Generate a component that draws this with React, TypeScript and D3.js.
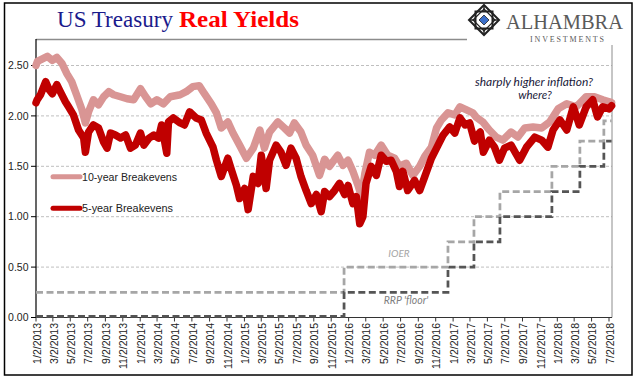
import React from 'react';
import * as d3 from 'd3';

// ---------- DATA ----------
const tenYear: [string, number][] = [
  ['2013-01-02', 2.5], ['2013-01-07', 2.54], ['2013-02-11', 2.59], ['2013-02-28', 2.55], ['2013-03-16', 2.58],
  ['2013-04-03', 2.52], ['2013-04-20', 2.42], ['2013-05-07', 2.34], ['2013-05-24', 2.21], ['2013-06-12', 2.06],
  ['2013-06-24', 1.93], ['2013-07-05', 2.04], ['2013-07-22', 2.16], ['2013-08-09', 2.11], ['2013-08-27', 2.19],
  ['2013-09-14', 2.24], ['2013-10-01', 2.21], ['2013-10-25', 2.19], ['2013-11-17', 2.17], ['2013-12-10', 2.16],
  ['2014-01-03', 2.27], ['2014-01-21', 2.19], ['2014-02-08', 2.12], ['2014-03-01', 2.16], ['2014-03-24', 2.12],
  ['2014-04-17', 2.19], ['2014-05-22', 2.21], ['2014-06-12', 2.24], ['2014-07-05', 2.29], ['2014-07-28', 2.3],
  ['2014-08-15', 2.22], ['2014-09-08', 2.12], ['2014-09-26', 2.03], ['2014-10-13', 1.88], ['2014-11-05', 1.94],
  ['2014-11-23', 1.83], ['2014-12-16', 1.71], ['2015-01-09', 1.58], ['2015-02-02', 1.68], ['2015-02-25', 1.86],
  ['2015-03-13', 1.68], ['2015-03-31', 1.84], ['2015-04-29', 1.94], ['2015-05-22', 1.88], ['2015-06-09', 1.83],
  ['2015-06-26', 1.93], ['2015-07-19', 1.84], ['2015-08-06', 1.71], ['2015-08-29', 1.61], ['2015-09-22', 1.41],
  ['2015-10-10', 1.57], ['2015-10-27', 1.5], ['2015-11-25', 1.61], ['2015-12-13', 1.51], ['2015-12-31', 1.56],
  ['2016-01-17', 1.45], ['2016-02-04', 1.31], ['2016-02-16', 1.2], ['2016-02-28', 1.43], ['2016-03-15', 1.64],
  ['2016-04-02', 1.61], ['2016-04-25', 1.71], ['2016-05-18', 1.61], ['2016-06-11', 1.58], ['2016-06-28', 1.5],
  ['2016-07-22', 1.53], ['2016-08-14', 1.41], ['2016-09-07', 1.5], ['2016-09-25', 1.6], ['2016-10-18', 1.69],
  ['2016-11-05', 1.88], ['2016-11-22', 1.96], ['2016-12-15', 2.03], ['2017-01-08', 2.01], ['2017-01-26', 2.09],
  ['2017-02-18', 2.06], ['2017-03-12', 2.03], ['2017-03-23', 1.99], ['2017-04-16', 1.94], ['2017-05-09', 1.86],
  ['2017-06-02', 1.79], ['2017-06-25', 1.76], ['2017-07-24', 1.84], ['2017-08-17', 1.79], ['2017-09-10', 1.88],
  ['2017-10-09', 1.89], ['2017-11-08', 1.88], ['2017-12-06', 1.94], ['2018-01-05', 2.07], ['2018-02-04', 2.12],
  ['2018-03-09', 2.09], ['2018-04-13', 2.19], ['2018-05-12', 2.19], ['2018-06-10', 2.16], ['2018-07-03', 2.14],
  ['2018-07-11', 2.13],
];

const fiveYear: [string, number][] = [
  ['2013-01-02', 2.13], ['2013-01-06', 2.16], ['2013-01-18', 2.21], ['2013-02-05', 2.34], ['2013-02-17', 2.26],
  ['2013-02-28', 2.22], ['2013-03-16', 2.31], ['2013-03-28', 2.24], ['2013-04-15', 2.14], ['2013-04-26', 2.09],
  ['2013-05-13', 2.01], ['2013-05-31', 1.86], ['2013-06-18', 1.78], ['2013-06-24', 1.64], ['2013-07-05', 1.84],
  ['2013-07-22', 1.91], ['2013-08-09', 1.88], ['2013-08-27', 1.74], ['2013-09-08', 1.68], ['2013-09-20', 1.83],
  ['2013-10-07', 1.81], ['2013-10-25', 1.78], ['2013-11-12', 1.81], ['2013-11-29', 1.68], ['2013-12-16', 1.71],
  ['2014-01-03', 1.83], ['2014-01-15', 1.71], ['2014-02-02', 1.78], ['2014-02-19', 1.81], ['2014-03-07', 1.78],
  ['2014-03-18', 1.91], ['2014-04-05', 1.63], ['2014-04-11', 1.94], ['2014-04-28', 1.98], ['2014-05-22', 1.93],
  ['2014-06-06', 1.91], ['2014-06-24', 2.04], ['2014-07-17', 1.98], ['2014-08-04', 1.96], ['2014-08-21', 1.83],
  ['2014-09-14', 1.69], ['2014-09-26', 1.56], ['2014-10-13', 1.4], ['2014-11-05', 1.58], ['2014-11-18', 1.46],
  ['2014-12-05', 1.31], ['2014-12-16', 1.18], ['2015-01-03', 1.28], ['2015-01-15', 1.07], ['2015-02-02', 1.4],
  ['2015-02-19', 1.33], ['2015-03-02', 1.61], ['2015-03-19', 1.28], ['2015-03-31', 1.56], ['2015-04-23', 1.71],
  ['2015-05-10', 1.64], ['2015-05-28', 1.51], ['2015-06-14', 1.68], ['2015-07-02', 1.58], ['2015-07-19', 1.4],
  ['2015-08-06', 1.26], ['2015-08-24', 1.13], ['2015-09-11', 1.22], ['2015-09-28', 1.05], ['2015-10-10', 1.25],
  ['2015-10-27', 1.2], ['2015-11-14', 1.26], ['2015-12-01', 1.33], ['2015-12-19', 1.22], ['2015-12-31', 1.31],
  ['2016-01-17', 1.13], ['2016-01-29', 1.2], ['2016-02-10', 0.93], ['2016-02-21', 1.0], ['2016-03-03', 1.33],
  ['2016-03-21', 1.5], ['2016-04-08', 1.41], ['2016-04-25', 1.61], ['2016-05-13', 1.55], ['2016-05-30', 1.56],
  ['2016-06-17', 1.45], ['2016-06-28', 1.3], ['2016-07-10', 1.45], ['2016-07-27', 1.26], ['2016-08-20', 1.36],
  ['2016-09-07', 1.26], ['2016-09-25', 1.4], ['2016-10-18', 1.58], ['2016-11-05', 1.68], ['2016-11-28', 1.81],
  ['2016-12-21', 1.89], ['2017-01-08', 1.83], ['2017-01-26', 1.98], ['2017-02-13', 1.91], ['2017-03-01', 1.93],
  ['2017-03-18', 1.75], ['2017-03-23', 1.79], ['2017-04-07', 1.84], ['2017-04-18', 1.64], ['2017-05-09', 1.76],
  ['2017-05-27', 1.69], ['2017-06-13', 1.56], ['2017-07-01', 1.68], ['2017-07-24', 1.71], ['2017-08-23', 1.56],
  ['2017-09-16', 1.69], ['2017-10-15', 1.79], ['2017-11-08', 1.76], ['2017-11-30', 1.69], ['2017-12-18', 1.86],
  ['2018-01-11', 1.96], ['2018-02-04', 1.86], ['2018-02-27', 2.09], ['2018-03-20', 1.91], ['2018-04-13', 2.09],
  ['2018-05-06', 2.16], ['2018-05-23', 1.99], ['2018-06-10', 2.09], ['2018-07-03', 2.07], ['2018-07-11', 2.1],
];

const ioerDates = ['2013-01-02', '2015-12-17', '2016-12-15', '2017-03-16', '2017-06-15', '2017-12-14', '2018-03-22', '2018-06-14', '2018-07-11'];
const ioerValues = [0.25, 0.5, 0.75, 1.0, 1.25, 1.5, 1.75, 1.95, 1.95];
const rrpDates = ['2013-01-02', '2015-12-17', '2016-12-15', '2017-03-16', '2017-06-15', '2017-12-14', '2018-03-22', '2018-06-14', '2018-07-11'];
const rrpValues = [0.01, 0.25, 0.5, 0.75, 1.0, 1.25, 1.5, 1.75, 1.75];

const xTickLabels = [
  '1/2/2013', '3/2/2013', '5/2/2013', '7/2/2013', '9/2/2013', '11/2/2013',
  '1/2/2014', '3/2/2014', '5/2/2014', '7/2/2014', '9/2/2014', '11/2/2014',
  '1/2/2015', '3/2/2015', '5/2/2015', '7/2/2015', '9/2/2015', '11/2/2015',
  '1/2/2016', '3/2/2016', '5/2/2016', '7/2/2016', '9/2/2016', '11/2/2016',
  '1/2/2017', '3/2/2017', '5/2/2017', '7/2/2017', '9/2/2017', '11/2/2017',
  '1/2/2018', '3/2/2018', '5/2/2018', '7/2/2018',
];
const yTicks = [0, 0.5, 1.0, 1.5, 2.0, 2.5];

// ---------- CHART ----------
const parse = d3.utcParse('%Y-%m-%d');
const parseTick = d3.utcParse('%m/%d/%Y');

export default function App() {
  const W = 641, H = 381;
  const x = d3.scaleUtc().domain([parse('2013-01-02')!, parse('2018-07-02')!]).range([36, 609]);
  const y = d3.scaleLinear().domain([0, 2.5]).range([317.5, 65.5]);

  const line = d3.line<[string, number]>()
    .x(d => x(parse(d[0])!))
    .y(d => y(d[1]))
    .curve(d3.curveLinear);

  const stepLine = d3.line<[string, number]>()
    .x(d => x(parse(d[0])!))
    .y(d => y(d[1]))
    .curve(d3.curveStepAfter);

  const ioer = ioerDates.map((d, i) => [d, ioerValues[i]] as [string, number]);
  const rrp = rrpDates.map((d, i) => [d, rrpValues[i]] as [string, number]);

  const axisFont = "'Liberation Sans', Arial, sans-serif";
  const plotL = 36, plotR = 612, plotB = 317.5;

  // logo geometry
  const cx = 484, cy = 20;

  return (
    <svg width={W} height={H} style={{ position: 'absolute', left: 0, top: 0, background: '#fff' }}>
      <rect x={0} y={0} width={W} height={H} fill="#fff" />
      <rect x={4.5} y={3} width={627.5} height={372} fill="none" stroke="#000" strokeWidth={1.5} />

      {/* Title */}
      <text x={57} y={26.5} fontFamily="'Liberation Serif', 'DejaVu Serif', serif" fontSize={23} fill="#1a1a8c"
        textLength={116} lengthAdjust="spacingAndGlyphs">US Treasury</text>
      <text x={179} y={26.5} fontFamily="'Liberation Serif', 'DejaVu Serif', serif" fontSize={23} fontWeight="bold" fill="#ff0000"
        textLength={120} lengthAdjust="spacingAndGlyphs">Real Yields</text>
      <line x1={36} x2={467} y1={39.5} y2={39.5} stroke="#8c8c8c" strokeWidth={1.5} />

      {/* Logo */}
      <g>
        <path d={`M${cx},${cy - 15} L${cx + 15},${cy} L${cx},${cy + 15} L${cx - 15},${cy} Z`} fill="none" stroke="#222" strokeWidth={2} />
        <rect x={cx - 8.5} y={cy - 8.5} width={17} height={17} fill="none" stroke="#222" strokeWidth={2} />
        <path d={`M${cx},${cy - 11} L${cx + 11},${cy} L${cx},${cy + 11} L${cx - 11},${cy} Z`} fill="none" stroke="#222" strokeWidth={1.2} />
        <path d={`M${cx},${cy - 5} L${cx + 5},${cy} L${cx},${cy + 5} L${cx - 5},${cy} Z`} fill="#3b6fc9" stroke="#222" strokeWidth={0.8} />
        <line x1={cx - 15} x2={cx - 8.5} y1={cy} y2={cy} stroke="#222" strokeWidth={1.5} />
        <line x1={cx + 8.5} x2={cx + 15} y1={cy} y2={cy} stroke="#222" strokeWidth={1.5} />
        <line x1={cx} x2={cx} y1={cy - 15} y2={cy - 8.5} stroke="#222" strokeWidth={1.5} />
        <line x1={cx} x2={cx} y1={cy + 8.5} y2={cy + 15} stroke="#222" strokeWidth={1.5} />
      </g>
      <text x={506} y={29} fontFamily="'Liberation Serif', 'DejaVu Serif', serif" fontSize={20} fill="#5a5a5a"
        textLength={117} lengthAdjust="spacingAndGlyphs">ALHAMBRA</text>
      <text x={530} y={41.5} fontFamily="'Liberation Serif', 'DejaVu Serif', serif" fontSize={8} fill="#5a5a5a"
        textLength={74} lengthAdjust="spacing">INVESTMENTS</text>

      {/* Grid */}
      {yTicks.filter(t => t > 0).map(t => (
        <line key={`g${t}`} x1={plotL} x2={plotR} y1={y(t)} y2={y(t)} stroke="#bfbfbf" strokeWidth={1} strokeDasharray="3,2" />
      ))}

      {/* Axes */}
      <line x1={plotR} x2={plotR} y1={45} y2={plotB} stroke="#8c8c8c" strokeWidth={1} />
      <line x1={plotL} x2={plotL} y1={39} y2={plotB} stroke="#000" strokeWidth={1.2} />
      <line x1={plotL} x2={plotR} y1={plotB} y2={plotB} stroke="#333" strokeWidth={1} />
      {yTicks.map(t => (
        <g key={`yt${t}`}>
          <line x1={31} x2={plotL} y1={y(t)} y2={y(t)} stroke="#000" strokeWidth={1} />
          <text x={28.5} y={y(t)} dy="0.35em" textAnchor="end" fontFamily={axisFont} fontSize={10.5} fill="#222">
            {d3.format('.2f')(t)}
          </text>
        </g>
      ))}
      {xTickLabels.map(lbl => {
        const xp = x(parseTick(lbl)!);
        return (
          <g key={lbl}>
            <line x1={xp} x2={xp} y1={plotB} y2={plotB + 4} stroke="#333" strokeWidth={1} />
            <text transform={`translate(${xp + 1},${plotB + 5.5}) rotate(-90)`} dy="0.35em" textAnchor="end"
              fontFamily={axisFont} fontSize={10.5} fill="#222">{lbl}</text>
          </g>
        );
      })}

      {/* Policy rate steps */}
      <path d={stepLine(ioer)!} fill="none" stroke="#a6a6a6" strokeWidth={2.75} strokeDasharray="7,3.5" />
      <path d={stepLine(rrp)!} fill="none" stroke="#555" strokeWidth={2.75} strokeDasharray="7,3.5" />

      {/* Breakevens */}
      <path d={line(tenYear)!} fill="none" stroke="#d99594" strokeWidth={7.5} strokeLinejoin="round" strokeLinecap="round" />
      <path d={line(fiveYear)!} fill="none" stroke="#c00000" strokeWidth={7.5} strokeLinejoin="round" strokeLinecap="round" />

      {/* Legend */}
      <line x1={53} x2={80} y1={176.7} y2={176.7} stroke="#d99594" strokeWidth={5} strokeLinecap="round" />
      <text x={82} y={180.5} fontFamily={axisFont} fontSize={11} fill="#222" textLength={95} lengthAdjust="spacingAndGlyphs">10-year Breakevens</text>
      <line x1={53} x2={80} y1={208.3} y2={208.3} stroke="#c00000" strokeWidth={5} strokeLinecap="round" />
      <text x={82} y={212} fontFamily={axisFont} fontSize={11} fill="#222" textLength={91} lengthAdjust="spacingAndGlyphs">5-year Breakevens</text>

      {/* Annotations */}
      <text x={534} y={85.5} textAnchor="middle" fontFamily="Lato, 'Open Sans', sans-serif" fontStyle="italic" fontSize={11.5} fill="#1a1a3a"
        textLength={118} lengthAdjust="spacingAndGlyphs">sharply higher inflation?</text>
      <text x={535} y={99} textAnchor="middle" fontFamily="Lato, 'Open Sans', sans-serif" fontStyle="italic" fontSize={11.5} fill="#1a1a3a">where?</text>
      <text x={399} y={257} textAnchor="middle" fontFamily="Lato, 'Open Sans', sans-serif" fontStyle="italic" fontSize={10} fill="#a6a6a6">IOER</text>
      <text x={406} y={303.5} textAnchor="middle" fontFamily="Lato, 'Open Sans', sans-serif" fontStyle="italic" fontSize={10.5} fill="#7f7f7f">RRP 'floor'</text>
    </svg>
  );
}
